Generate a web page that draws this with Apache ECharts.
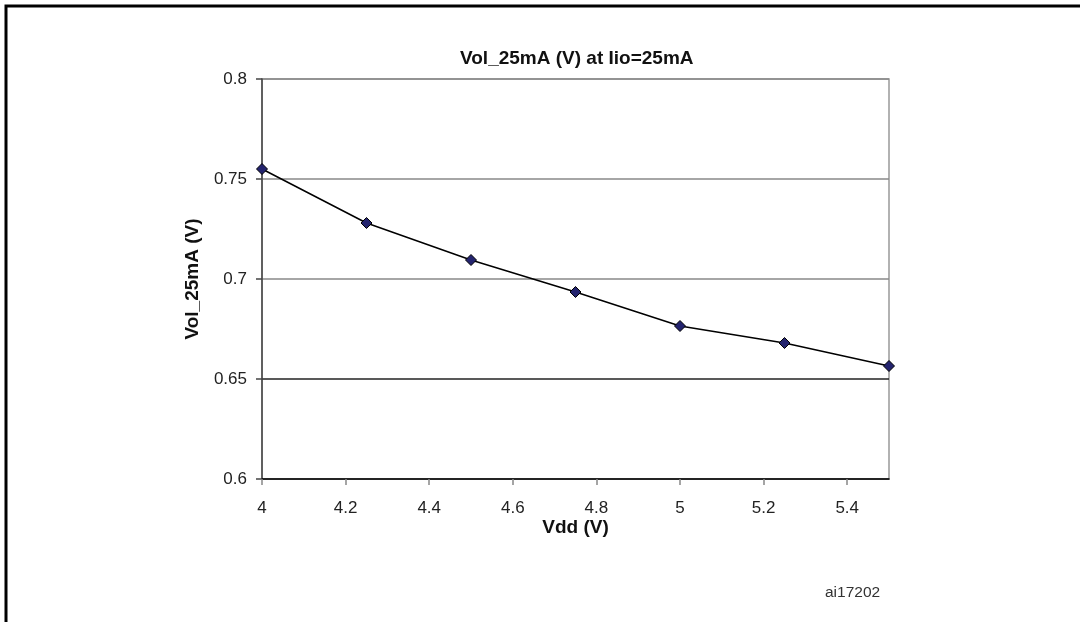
<!DOCTYPE html>
<html>
<head>
<meta charset="utf-8">
<script src="https://cdn.jsdelivr.net/npm/echarts@6/dist/echarts.min.js"></script>
<style>
    html, body { margin: 0; padding: 0; background: #fff; }
    #chart { width: 1080px; height: 622px; }
</style>
</head>
<body>
<div id="chart"></div>
<script>
    // data
    const vdd = [4.0, 4.25, 4.5, 4.75, 5.0, 5.25, 5.5];
    const vol = [0.755, 0.728, 0.7095, 0.6935, 0.6765, 0.668, 0.6565];

    const titleText = 'Vol_25mA (V) at Iio=25mA';
    const xName = 'Vdd (V)';
    const yName = 'Vol_25mA (V)';
    const figureId = 'ai17202';

    const font = 'Arial, "Liberation Sans", Helvetica, sans-serif';

    let points = vdd.map(function(x, i) { return [x, vol[i]]; });

    let options = {
        animation: false,
        backgroundColor: '#fff',
        title: {
            text: titleText,
            left: 460,
            top: 49,
            padding: 0,
            textStyle: { fontFamily: font, fontSize: 19, fontWeight: 'bold', color: '#111' }
        },
        grid: {
            left: 262,
            right: 191,
            top: 79,
            bottom: 143,
            show: true,
            borderColor: '#999',
            borderWidth: 1.5
        },
        xAxis: {
            type: 'value',
            min: 4,
            max: 5.5,
            interval: 0.2,
            name: xName,
            nameLocation: 'middle',
            nameGap: 39,
            nameMoveOverlap: false,
            nameTextStyle: { fontFamily: font, fontSize: 19, fontWeight: 'bold', color: '#111' },
            axisLine: { show: true, lineStyle: { color: '#000', width: 1.5 } },
            axisTick: { show: true, length: 6, lineStyle: { color: '#888', width: 1.5 } },
            axisLabel: {
                showMaxLabel: false,
                margin: 21,
                fontFamily: font, fontSize: 17, color: '#222'
            },
            splitLine: { show: false }
        },
        yAxis: {
            type: 'value',
            min: 0.6,
            max: 0.8,
            interval: 0.05,
            name: yName,
            nameLocation: 'middle',
            nameGap: 60,
            nameTextStyle: { fontFamily: font, fontSize: 19, fontWeight: 'bold', color: '#111' },
            axisLine: { show: true, lineStyle: { color: '#444', width: 1.5 } },
            axisTick: { show: true, length: 6, lineStyle: { color: '#444', width: 1.5 } },
            axisLabel: {
                margin: 15,
                fontFamily: font, fontSize: 17, color: '#222',
                formatter: function(v) { return String(+v.toFixed(2)); }
            },
            splitLine: {
                show: true,
                lineStyle: { color: ['#888', '#222', '#888', '#888', '#888'], width: 1.5 }
            }
        },
        graphic: [
            {
                type: 'polyline',
                shape: { points: [[6, 622], [6, 6], [1080, 6]] },
                style: { stroke: '#000', lineWidth: 3, fill: null }
            },
            {
                type: 'text',
                x: 825,
                y: 593,
                style: {
                    text: figureId,
                    fontFamily: font, fontSize: 15.5, fill: '#333',
                    textVerticalAlign: 'middle'
                }
            }
        ],
        series: [
            {
                type: 'line',
                data: points,
                symbol: 'diamond',
                symbolSize: 11,
                lineStyle: { color: '#000', width: 1.5 },
                itemStyle: { color: '#23236e', borderColor: '#000', borderWidth: 1 }
            }
        ]
    };

    echarts.init(document.getElementById('chart')).setOption(options);
</script>
</body>
</html>
